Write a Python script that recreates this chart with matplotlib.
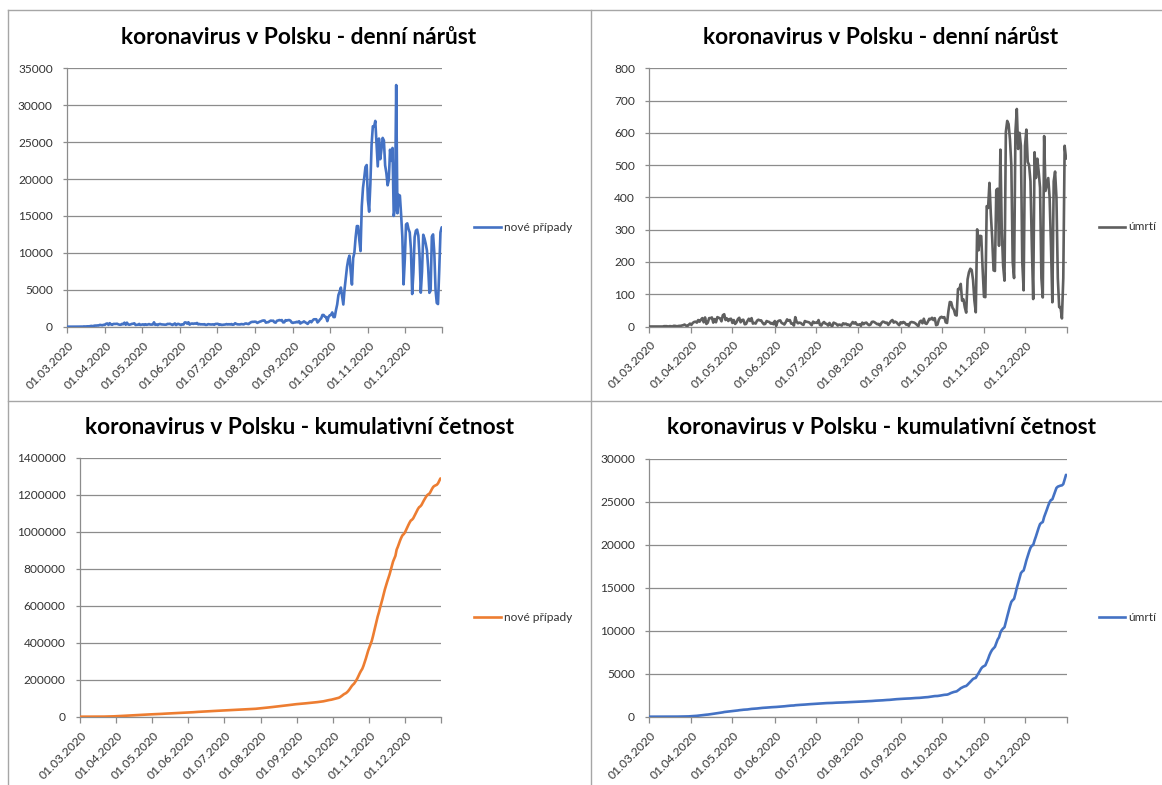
import matplotlib
matplotlib.use("Agg")
import matplotlib.pyplot as plt
import matplotlib.transforms as mtransforms
from matplotlib.lines import Line2D
from matplotlib.ticker import StrMethodFormatter, MultipleLocator
import numpy as np
import datetime as dt

# ---------------- data ----------------
start_date = "2020-03-01"

cases_mar = [0, 0, 0, 1, 4, 0, 0, 6, 5, 6, 9, 20, 17, 13, 38, 27, 46, 51, 49, 70, 111, 60, 115, 152, 150, 170, 168, 249, 224, 193, 256]
cases_apr = [244, 392, 437, 244, 475, 311, 256, 374, 370, 380, 401, 318, 268, 260, 380, 336, 545, 263, 545, 306, 263, 313, 381, 401, 461, 236, 263, 279, 374, 241]
cases_may = [285, 318, 238, 333, 249, 307, 356, 289, 285, 300, 595, 253, 303, 220, 334, 372, 314, 297, 286, 272, 280, 380, 369, 395, 312, 232, 325, 443, 216, 366, 379]
cases_jun = [292, 230, 333, 292, 576, 575, 407, 599, 282, 395, 440, 379, 440, 407, 506, 314, 371, 308, 330, 301, 346, 246, 254, 346, 321, 302, 300, 318, 260, 371]
cases_jul = [371, 386, 253, 318, 243, 262, 290, 299, 358, 299, 342, 299, 358, 258, 299, 468, 370, 319, 320, 306, 358, 337, 313, 417, 441, 379, 358, 512, 615, 657, 658]
cases_aug = [680, 658, 512, 599, 680, 726, 809, 843, 832, 548, 597, 619, 736, 832, 794, 811, 587, 548, 809, 841, 903, 850, 900, 581, 597, 887, 832, 887, 900, 815, 567]
cases_sep = [513, 571, 579, 661, 597, 737, 430, 550, 603, 720, 595, 501, 377, 600, 757, 600, 834, 1002, 1002, 1007, 574, 746, 975, 1136, 1587, 1584, 1350, 1306, 757, 1326]
cases_oct = [1552, 1587, 1934, 1306, 1300, 2236, 3003, 4280, 4739, 5300, 4178, 3007, 5068, 6526, 8099, 9105, 9622, 7482, 5709, 9291, 10040, 12107, 13632, 13628, 11742, 10241, 16300, 18820, 20156, 21629, 21897]
cases_nov = [17171, 15578, 19364, 24692, 27143, 27086, 27875, 24785, 21713, 25484, 22683, 24000, 25571, 25221, 21854, 20816, 19152, 19883, 23975, 22464, 24213, 15002, 15945, 32733, 15362, 17856, 17758, 15178, 12151, 5733]
cases_dec = [9105, 13855, 14000, 13236, 12771, 10500, 4423, 7340, 12130, 13000, 13149, 12352, 9500, 4608, 7455, 12453, 11958, 11233, 10334, 8000, 4589, 4896, 12199, 12500, 10000, 5034, 3211, 3066, 7597, 12780, 13464]

deaths_mar = [0, 0, 0, 0, 0, 0, 0, 0, 0, 0, 0, 1, 1, 1, 0, 1, 1, 0, 2, 2, 1, 1, 2, 2, 3, 4, 6, 3, 1, 5, 9]
deaths_apr = [5, 11, 14, 15, 12, 20, 15, 21, 26, 13, 28, 8, 12, 26, 26, 28, 12, 23, 13, 29, 27, 25, 16, 35, 38, 20, 25, 17, 23, 24]
deaths_may = [11, 20, 8, 13, 23, 27, 13, 20, 21, 7, 8, 17, 24, 17, 26, 9, 11, 9, 18, 21, 19, 19, 12, 7, 8, 17, 15, 14, 9, 11, 7]
deaths_jun = [17, 2, 15, 18, 19, 11, 9, 6, 13, 22, 18, 20, 9, 9, 3, 29, 14, 10, 12, 11, 7, 5, 17, 15, 14, 13, 9, 4, 15, 11]
deaths_jul = [12, 11, 20, 5, 3, 10, 14, 9, 8, 3, 11, 4, 1, 12, 10, 8, 3, 6, 5, 3, 10, 7, 9, 5, 6, 2, 8, 14, 9, 13, 6]
deaths_aug = [5, 7, 2, 12, 7, 11, 12, 7, 4, 6, 14, 15, 13, 10, 7, 8, 3, 11, 15, 14, 11, 12, 5, 11, 17, 20, 12, 15, 13, 8, 4]
deaths_sep = [13, 10, 14, 12, 6, 7, 2, 12, 14, 13, 12, 9, 5, 1, 15, 18, 10, 24, 10, 8, 15, 24, 22, 27, 20, 26, 4, 6, 21, 28]
deaths_oct = [30, 27, 29, 13, 11, 48, 76, 75, 58, 52, 36, 34, 116, 116, 132, 80, 84, 59, 43, 146, 168, 179, 175, 144, 80, 44, 301, 236, 281, 280, 179]
deaths_nov = [92, 91, 373, 367, 445, 349, 274, 174, 172, 423, 427, 250, 548, 300, 189, 142, 603, 637, 627, 580, 500, 200, 150, 603, 674, 550, 600, 560, 200, 112]
deaths_dec = [560, 610, 510, 500, 450, 250, 85, 540, 460, 520, 480, 430, 150, 90, 590, 420, 440, 460, 400, 250, 75, 450, 480, 400, 150, 60, 60, 25, 150, 560, 520]

tick_labels = ["01.03.2020", "01.04.2020", "01.05.2020", "01.06.2020", "01.07.2020",
               "01.08.2020", "01.09.2020", "01.10.2020", "01.11.2020", "01.12.2020"]
title_daily = "koronavirus v Polsku - denní nárůst"
title_cum = "koronavirus v Polsku - kumulativní četnost"
legend_cases = "nové případy"
legend_deaths = "úmrtí"

cases = np.array(cases_mar + cases_apr + cases_may + cases_jun + cases_jul +
                 cases_aug + cases_sep + cases_oct + cases_nov + cases_dec)
deaths = np.array(deaths_mar + deaths_apr + deaths_may + deaths_jun + deaths_jul +
                  deaths_aug + deaths_sep + deaths_oct + deaths_nov + deaths_dec)
cum_cases = np.cumsum(cases)
cum_deaths = np.cumsum(deaths)
d0 = np.datetime64(start_date)
dates = (d0 + np.arange(len(cases))).astype("datetime64[D]").astype(object)

# ---------------- figure ----------------
W, H, DPI = 1162, 785, 100
FONT = ["Lato", "DejaVu Sans"]
plt.rcParams["font.family"] = FONT
fig = plt.figure(figsize=(W / DPI, H / DPI), dpi=DPI)
fig.patch.set_facecolor("white")

def rect(l, r, t, b):
    return [l / W, 1 - b / H, (r - l) / W, (b - t) / H]

def fx(x):
    return x / W

def fy(y):
    return 1 - y / H

GRID = "#8c8c8c"
LABEL = "#333333"
BORDER = "#a6a6a6"

# panel borders
for (x1, y1, x2, y2) in [(8, 10, 1162, 10), (8, 10, 8, 785), (591, 10, 591, 785), (8, 400.5, 1162, 400.5)]:
    fig.add_artist(Line2D([fx(x1), fx(x2)], [fy(y1), fy(y2)], color=BORDER, lw=1.0,
                          transform=fig.transFigure))

month_ticks = [dt.datetime(2020, m, 1) for m in range(3, 13)]
x_end = dt.datetime(2020, 12, 31, 12)

panels = [
    (rect(66.7, 442.3, 68.3, 326.7), cases, 35000, 5000, "#4472c4", title_daily, (299, 44.3), legend_cases, (474, 500.6, 503.6, 227.3)),
    (rect(649, 1066.7, 68.3, 326.5), deaths, 800, 100, "#5f5f5f", title_daily, (881, 44.3), legend_deaths, (1099, 1124.5, 1128, 226.7)),
    (rect(79.5, 441, 457.5, 716.7), cum_cases, 1400000, 200000, "#ed7d31", title_cum, (299.6, 434.3), legend_cases, (474, 500.6, 503.6, 617.3)),
    (rect(649, 1066.7, 458.7, 716.7), cum_deaths, 30000, 5000, "#4472c4", title_cum, (881.5, 434.3), legend_deaths, (1099, 1124.5, 1128, 617.3)),
]
title_targets = [359, 359.3, 433.6, 433.4]
titles = []

for (r, series, ymax, ystep, color, ttl, tpos, ltxt, lpos) in panels:
    ax = fig.add_axes(r)
    ax.plot(dates, series, color=color, lw=1.9, solid_joinstyle="round", solid_capstyle="round", zorder=3)
    ax.set_ylim(0, ymax)
    ax.yaxis.set_major_locator(MultipleLocator(ystep))
    ax.yaxis.set_major_formatter(StrMethodFormatter("{x:.0f}"))
    ax.set_xlim(dates[0], x_end)
    ax.set_xticks(month_ticks + [x_end])
    ax.set_xticklabels(tick_labels + [""])
    ax.grid(axis="y", color=GRID, lw=0.9, zorder=0)
    ax.set_axisbelow(True)
    for s in ["top", "right"]:
        ax.spines[s].set_visible(False)
    for s in ["left", "bottom"]:
        ax.spines[s].set_color(GRID)
        ax.spines[s].set_linewidth(0.9)
    ax.tick_params(axis="y", length=3, width=0.9, color=GRID, pad=7, labelsize=8.6, labelcolor=LABEL)
    ax.tick_params(axis="x", length=4, width=0.9, color=GRID, pad=8, labelsize=8.7, labelcolor=LABEL)
    off = mtransforms.ScaledTranslation(5 / DPI, 0, fig.dpi_scale_trans)
    for lab in ax.get_xticklabels():
        lab.set_rotation(45)
        lab.set_ha("right")
        lab.set_va("center")
        lab.set_rotation_mode("anchor")
        lab.set_transform(lab.get_transform() + off)
    t = fig.text(fx(tpos[0]), fy(tpos[1]), ttl, ha="center", va="baseline",
                 fontsize=15, fontweight="bold", color="black")
    titles.append(t)
    x1, x2, xt, yl = lpos
    fig.add_artist(Line2D([fx(x1), fx(x2)], [fy(yl), fy(yl)], color=color, lw=1.9,
                          transform=fig.transFigure))
    fig.text(fx(xt), fy(yl), ltxt, ha="left", va="center", fontsize=8.6, color=LABEL)

fig.canvas.draw()
rnd = fig.canvas.get_renderer()
for t, target in zip(titles, title_targets):
    w = t.get_window_extent(rnd).width
    t.set_fontsize(t.get_fontsize() * target / w)

fig.savefig("out.png", dpi=DPI, facecolor="white")
